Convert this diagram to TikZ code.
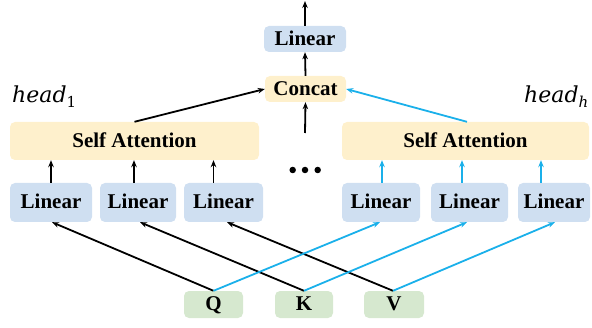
\documentclass[tikz,border=0pt]{standalone}
\usepackage{fontspec}
\setmainfont{Liberation Serif}
\newfontfamily\headfont{DejaVu Serif}
\usetikzlibrary{arrows.meta}
\definecolor{linfill}{HTML}{CFDFF1}
\definecolor{attfill}{HTML}{FEF0CC}
\definecolor{inpfill}{HTML}{D6E8CF}
\definecolor{cyanline}{HTML}{1AB0EA}
\newcommand{\headsub}[2]{{\headfont\itshape head}\raisebox{-5pt}{\headfont\fontsize{15}{15}\selectfont #1#2}}
\tikzset{
  box/.style={rounded corners=5pt, inner sep=0pt, font=\fontsize{21}{23}\selectfont\bfseries, text height=13.5pt, text depth=1pt},
  linbox/.style={box, fill=linfill, minimum height=39pt},
  attbox/.style={box, fill=attfill, minimum height=38pt},
  inpbox/.style={box, fill=inpfill, minimum height=27pt},
  arr/.style={-{Stealth[length=7pt,width=5.5pt]}, line width=1.8pt, black},
  carr/.style={arr, cyanline},
  headlbl/.style={inner sep=0pt, anchor=base west, font=\fontsize{22}{24}\selectfont},
  dot/.style={circle, fill=black, inner sep=0pt, minimum size=6.5pt}
}
\begin{document}
\begin{tikzpicture}[x=1pt,y=1pt]
\useasboundingbox (0,0) rectangle (592,327);
% output stage
\node[linbox, minimum width=82pt, minimum height=26pt] (lintop) at (305,288) {Linear};
\node[box, fill=attfill, minimum width=81pt, minimum height=26pt] (concat) at (305.5,238) {Concat};
\coordinate (out) at (305,326);
\coordinate (mid) at (305,194);
% attention heads
\node[attbox, minimum width=249pt] (sa1) at (134.5,186) {Self Attention};
\node[attbox, minimum width=247pt] (sa2) at (465.5,186) {Self Attention};
\node[headlbl] (h1) at (12,224) {\headsub{}{1}};
\node[headlbl] (hh) at (524,224) {\headsub{\itshape}{h}};
\node[dot] (d1) at (292.7,157) {};
\node[dot] (d2) at (305,157) {};
\node[dot] (d3) at (317.7,157) {};
% per-head projections
\node[linbox, minimum width=82pt] (l1) at (51,124.5) {Linear};
\node[linbox, minimum width=76pt] (l2) at (138,124.5) {Linear};
\node[linbox, minimum width=79pt] (l3) at (223.5,124.5) {Linear};
\node[linbox, minimum width=78pt] (l4) at (381,124.5) {Linear};
\node[linbox, minimum width=77pt] (l5) at (469.5,124.5) {Linear};
\node[linbox, minimum width=72pt] (l6) at (554,124.5) {Linear};
% inputs
\node[inpbox, minimum width=59pt] (q) at (213.5,22.5) {Q};
\node[inpbox, minimum width=58pt] (k) at (304,22.5) {K};
\node[inpbox, minimum width=60pt] (v) at (394,22.5) {V};
% top arrows
\draw[arr] (lintop.north) -- (out);
\draw[arr] (concat.north) -- (lintop.south);
\draw[arr] (mid) -- (concat.south);
\draw[arr] (sa1.north) -- (concat.west);
\draw[carr] ([xshift=1.5pt]sa2.north) -- (concat.east);
% projections into attention
\draw[arr] (l1.north) -- (l1.north |- sa1.south);
\draw[arr] ([xshift=-4pt]l2.north) -- ([xshift=-4pt]l2.north |- sa1.south);
\draw[arr] ([xshift=-10pt]l3.north) -- ([xshift=-10pt]l3.north |- sa1.south);
\draw[carr] ([xshift=1pt]l4.north) -- ([xshift=1pt]l4.north |- sa2.south);
\draw[carr] ([xshift=-7.5pt]l5.north) -- ([xshift=-7.5pt]l5.north |- sa2.south);
\draw[carr] ([xshift=-13pt]l6.north) -- ([xshift=-13pt]l6.north |- sa2.south);
% inputs into projections
\draw[arr] (q.north) -- ([xshift=1pt]l1.south);
\draw[arr] (k.north) -- ([xshift=2pt]l2.south);
\draw[arr] ([xshift=-1pt]v.north) -- ([xshift=3.5pt]l3.south);
\draw[carr] (q.north) -- ([xshift=-1pt]l4.south);
\draw[carr] (k.north) -- ([xshift=-2.5pt]l5.south);
\draw[carr] ([xshift=-1pt]v.north) -- ([xshift=1pt]l6.south);
\end{tikzpicture}
\end{document}
